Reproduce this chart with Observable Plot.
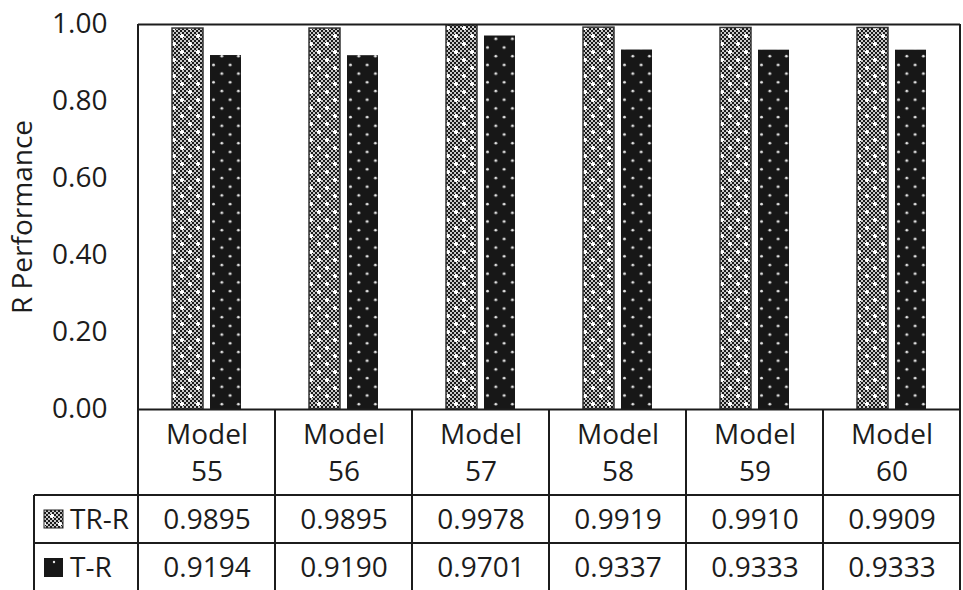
<!DOCTYPE html>
<html>
<head>
<meta charset="utf-8">
<script src="https://cdn.jsdelivr.net/npm/d3@7"></script>
<script src="https://cdn.jsdelivr.net/npm/@observablehq/plot@0.6"></script>
<style>
  html, body { margin: 0; padding: 0; background: #fff; }
  #chart svg { display: block; }
</style>
</head>
<body>
<div id="chart"></div>
<script>
// Categories, series and values
const models = ["Model 55", "Model 56", "Model 57", "Model 58", "Model 59", "Model 60"];
const series = ["TR-R", "T-R"];
const trrValues = [0.9895, 0.9895, 0.9978, 0.9919, 0.9910, 0.9909];
const trValues = [0.9194, 0.9190, 0.9701, 0.9337, 0.9333, 0.9333];
const yTicks = [0, 0.2, 0.4, 0.6, 0.8, 1.0];
const yLabel = "R Performance";

const rows = models.flatMap((m, i) => [
  {model: m, series: series[0], value: trrValues[i]},
  {model: m, series: series[1], value: trValues[i]}
]);
const fmt = d3.format(".4f");

const ink = "#1c1c1c";
const font = "'Open Sans', sans-serif";
const W = 963, H = 590;
const headerH = 86, rowH = 48, legendLeft = 34;

const chart = Plot.plot({
  width: W,
  height: H,
  marginTop: 24,
  marginBottom: 181,
  marginLeft: 136,
  marginRight: 1,
  style: {fontFamily: font, color: ink, background: "white"},
  fx: {domain: models, padding: 0, axis: null},
  x: {domain: series, paddingInner: 0.18, paddingOuter: 0.85, axis: null},
  y: {domain: [0, 1]},
  marks: [
    Plot.axisY({
      ticks: yTicks,
      tickFormat: d3.format(".2f"),
      tickSize: 0,
      tickPadding: 31,
      fontSize: 28,
      label: yLabel,
      labelAnchor: "center",
      labelArrow: "none",
      labelOffset: 126
    }),
    Plot.barY(rows.filter(d => d.series === series[0]), {
      fx: "model", x: "series", y: "value",
      fill: "url(#pat-trr)", stroke: "#333", strokeWidth: 1.5
    }),
    Plot.barY(rows.filter(d => d.series === series[1]), {
      fx: "model", x: "series", y: "value",
      fill: "url(#pat-tr)"
    }),
    Plot.ruleY([0, 1], {stroke: ink, strokeWidth: 2}),
    // data table: header row, then one row per series
    Plot.text(models, {
      fx: d => d, text: d => d.replace(" ", "\n"),
      frameAnchor: "bottom", lineAnchor: "top", dy: 8, lineHeight: 1.32,
      fontSize: 28, fill: ink
    }),
    Plot.text(rows.filter(d => d.series === series[0]), {
      fx: "model", text: d => fmt(d.value),
      frameAnchor: "bottom", lineAnchor: "top", dy: 100, fontSize: 28, fill: ink
    }),
    Plot.text(rows.filter(d => d.series === series[1]), {
      fx: "model", text: d => fmt(d.value),
      frameAnchor: "bottom", lineAnchor: "top", dy: 148, fontSize: 28, fill: ink
    })
  ]
});

const svg = d3.select(chart);

// Fill patterns: sparkled checker for TR-R, dotted black for T-R
const defs = svg.insert("defs", ":first-child");
const p1 = defs.append("pattern")
  .attr("id", "pat-trr").attr("patternUnits", "userSpaceOnUse")
  .attr("width", 16).attr("height", 16);
p1.append("rect").attr("width", 16).attr("height", 16).attr("fill", "#c8c8c8");
for (let y = 0; y < 16; y += 2) {
  for (let x = 0; x < 16; x += 2) {
    if (((x + y) / 2) % 2 === 0) {
      p1.append("rect").attr("x", x).attr("y", y).attr("width", 2).attr("height", 2).attr("fill", "#1a1a1a");
    }
  }
}
for (const [cx, cy] of [[4, 4], [12, 12]]) {
  p1.append("rect").attr("x", cx - 2).attr("y", cy - 1).attr("width", 4).attr("height", 2).attr("fill", "#fff");
  p1.append("rect").attr("x", cx - 1).attr("y", cy - 2).attr("width", 2).attr("height", 4).attr("fill", "#fff");
}
const p2 = defs.append("pattern")
  .attr("id", "pat-tr").attr("patternUnits", "userSpaceOnUse")
  .attr("width", 16.6).attr("height", 17.4);
p2.append("rect").attr("width", 16.6).attr("height", 17.4).attr("fill", "#171717");
for (const [cx, cy] of [[4, 4], [12.3, 12.7]]) {
  p2.append("circle").attr("cx", cx).attr("cy", cy).attr("r", 1.4).attr("fill", "#e6e6e6");
}

// Box sides and table grid, positioned from the plot's own scales
const fxScale = chart.scale("fx");
const yScale = chart.scale("y");
const edges = models.map(m => fxScale.apply(m));
edges.push(edges[edges.length - 1] + fxScale.bandwidth);
const yTop = yScale.apply(1), yBase = yScale.apply(0);
const rowTops = series.map((s, i) => yBase + headerH + i * rowH);

const grid = svg.append("g").attr("stroke", ink).attr("stroke-width", 2).attr("fill", "none");
edges.forEach((x, i) => {
  const outer = i === 0 || i === edges.length - 1;
  grid.append("line").attr("x1", x).attr("x2", x).attr("y1", outer ? yTop : yBase).attr("y2", H);
});
rowTops.forEach(y => {
  grid.append("line").attr("x1", legendLeft).attr("x2", edges[edges.length - 1]).attr("y1", y).attr("y2", y);
});
grid.append("line").attr("x1", legendLeft).attr("x2", legendLeft).attr("y1", rowTops[0]).attr("y2", H);

// Series keys in the table's first column
const key = svg.append("g")
  .attr("font-family", font).attr("font-size", 28).attr("fill", ink).attr("text-anchor", "start");
series.forEach((s, i) => {
  const top = rowTops[i];
  if (i === 0) {
    key.append("rect").attr("x", 44).attr("y", top + 15).attr("width", 19).attr("height", 18)
      .attr("fill", "url(#pat-trr)").attr("stroke", "#222").attr("stroke-width", 1);
  } else {
    key.append("rect").attr("x", 44).attr("y", top + 15).attr("width", 19).attr("height", 19).attr("fill", "#171717");
    key.append("circle").attr("cx", 54).attr("cy", top + 19).attr("r", 1.2).attr("fill", "#e6e6e6");
  }
  key.append("text").attr("x", 70).attr("y", top + 34).text(s);
});

document.getElementById("chart").appendChild(chart);
</script>
</body>
</html>
